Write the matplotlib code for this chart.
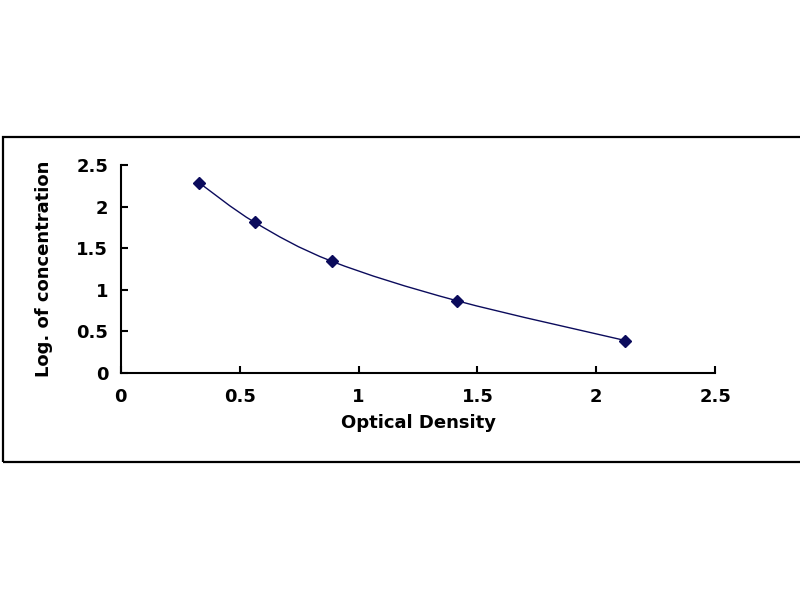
import matplotlib.pyplot as plt
from matplotlib.path import Path
from matplotlib.patches import PathPatch, Rectangle
import numpy as np

plt.rcParams['font.family'] = ['DejaVu Sans']

# standard curve
od = [0.33, 0.563, 0.888, 1.414, 2.122]
log_conc = [2.285, 1.81, 1.34, 0.865, 0.386]

xticks = [0, 0.5, 1, 1.5, 2, 2.5]
yticks = [0, 0.5, 1, 1.5, 2, 2.5]
tick_labels = ['0', '0.5', '1', '1.5', '2', '2.5']

navy = '#0b0b5c'

fig = plt.figure(figsize=(8, 6), dpi=100)
fig.patches.append(Rectangle((0.004, 0.23), 1.0, 0.541, transform=fig.transFigure,
                             fill=False, edgecolor='black', linewidth=1.6))

ax = fig.add_axes([0.151, 0.379, 0.743, 0.346])

# smoothed line (catmull-rom style bezier, like a spreadsheet smooth line)
x = np.array(od)
y = np.array(log_conc)
verts = [(x[0], y[0])]
codes = [Path.MOVETO]
n = len(x)
for i in range(n - 1):
    x0, y0 = (x[i - 1], y[i - 1]) if i > 0 else (x[i], y[i])
    x3, y3 = (x[i + 2], y[i + 2]) if i + 2 < n else (x[i + 1], y[i + 1])
    c1 = (x[i] + (x[i + 1] - x0) / 6, y[i] + (y[i + 1] - y0) / 6)
    c2 = (x[i + 1] - (x3 - x[i]) / 6, y[i + 1] - (y3 - y[i]) / 6)
    verts += [c1, c2, (x[i + 1], y[i + 1])]
    codes += [Path.CURVE4] * 3
ax.add_patch(PathPatch(Path(verts, codes), fill=False, edgecolor=navy, linewidth=1.0))
ax.plot(od, log_conc, linestyle='none', marker='D', markersize=6.2, color=navy)

ax.set_xlim(0, 2.5)
ax.set_ylim(0, 2.5)
ax.set_xticks(xticks)
ax.set_yticks(yticks)
ax.set_xticklabels(tick_labels)
ax.set_yticklabels(tick_labels)
ax.tick_params(direction='in', length=5, width=1.5, labelsize=13)
ax.tick_params(axis='x', pad=11)
ax.tick_params(axis='y', pad=9)
for lab in ax.get_xticklabels() + ax.get_yticklabels():
    lab.set_fontweight('bold')

ax.spines['top'].set_visible(False)
ax.spines['right'].set_visible(False)
ax.spines['left'].set_linewidth(1.5)
ax.spines['bottom'].set_linewidth(1.5)

ax.set_xlabel('Optical Density', fontsize=13, fontweight='bold', labelpad=6)
ax.set_ylabel('Log. of concentration', fontsize=13, fontweight='bold', labelpad=17)

fig.savefig('out.png', dpi=100, facecolor='white')
